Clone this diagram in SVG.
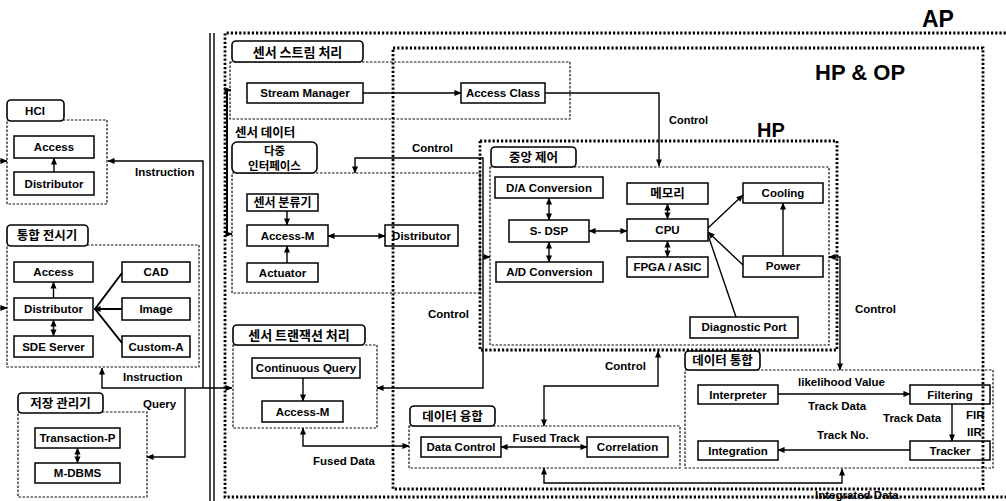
<svg xmlns="http://www.w3.org/2000/svg" width="1006" height="501" viewBox="0 0 1006 501">
<defs>
<style>
text{font-family:"Liberation Sans","Noto Sans CJK KR",sans-serif;font-weight:bold;font-size:11.5px;fill:#000}
.c{text-anchor:middle}
.kr{font-family:"Noto Sans CJK KR","Liberation Sans",sans-serif;font-size:12.5px;font-weight:bold}
.box{fill:#fff;stroke:#000;stroke-width:1.5}
.tab{fill:#fff;stroke:#000;stroke-width:1.6}
.cont{fill:none;stroke:#111;stroke-width:1.2;stroke-dasharray:2.5 1.5}
.dot{fill:none;stroke:#000;stroke-width:2.8;stroke-dasharray:2.2 2}
.ln{fill:none;stroke:#000;stroke-width:1.4}
.th{fill:none;stroke:#000;stroke-width:2}
.big{font-family:"Liberation Sans",sans-serif;font-weight:900;font-size:22px}
</style>
<marker id="a" viewBox="0 0 8 8" refX="7.5" refY="4" markerWidth="7" markerHeight="7" orient="auto-start-reverse" markerUnits="userSpaceOnUse"><path d="M0,0.5 L8,4 L0,7.5 z" fill="#000"/></marker>
</defs>
<rect width="1006" height="501" fill="#fff"/>

<!-- left column -->
<g id="hci">
<rect class="cont" x="7" y="120" width="100" height="84"/>
<rect class="tab" x="7" y="100" width="57" height="21" rx="4"/>
<text class="c" x="35" y="115">HCI</text>
</g>
<g id="hci-access"><rect class="box" x="14" y="136" width="80" height="22"/><text class="c" x="54" y="151">Access</text></g>
<g id="hci-distributor"><rect class="box" x="14" y="172" width="80" height="23"/><text class="c" x="54" y="188">Distributor</text></g>

<g id="display">
<rect class="cont" x="7" y="245" width="192" height="122"/>
<rect class="tab" x="7" y="225" width="81" height="21" rx="4"/>
<text class="c kr" x="47" y="240">통합 전시기</text>
</g>
<g id="disp-access"><rect class="box" x="14" y="262" width="79" height="20"/><text class="c" x="53.5" y="276">Access</text></g>
<g id="disp-cad"><rect class="box" x="122" y="262" width="68" height="20"/><text class="c" x="156" y="276">CAD</text></g>
<g id="disp-distributor"><rect class="box" x="14" y="298" width="79" height="22"/><text class="c" x="53.5" y="313">Distributor</text></g>
<g id="disp-image"><rect class="box" x="122" y="298" width="68" height="22"/><text class="c" x="156" y="313">Image</text></g>
<g id="disp-sde"><rect class="box" x="14" y="336" width="79" height="21"/><text class="c" x="53.5" y="350.5">SDE Server</text></g>
<g id="disp-custom"><rect class="box" x="122" y="336" width="68" height="21"/><text class="c" x="156" y="350.5">Custom-A</text></g>

<g id="storage">
<rect class="cont" x="18" y="412" width="129" height="85"/>
<rect class="tab" x="18" y="393" width="85" height="20" rx="4"/>
<text class="c kr" x="60.5" y="407.5">저장 관리기</text>
</g>
<g id="transaction-p"><rect class="box" x="35" y="428" width="85" height="20"/><text class="c" x="77.5" y="442">Transaction-P</text></g>
<g id="m-dbms"><rect class="box" x="35" y="463" width="85" height="20"/><text class="c" x="77.5" y="477">M-DBMS</text></g>

<!-- sensor stream -->
<g id="stream">
<rect class="cont" x="230" y="62" width="340" height="57"/>
<rect class="tab" x="232" y="41" width="131" height="21" rx="4"/>
<text class="c kr" x="297.5" y="56.5" style="font-size:13px">센서 스트림 처리</text>
</g>
<g id="stream-manager"><rect class="box" x="247" y="83" width="116" height="20"/><text class="c" x="305" y="97">Stream Manager</text></g>
<g id="access-class"><rect class="box" x="461" y="83" width="84" height="20"/><text class="c" x="503" y="97">Access Class</text></g>

<text class="kr" x="235" y="137">센서 데이터</text>

<g id="multi-if">
<rect class="cont" x="232" y="173" width="248" height="120"/>
<rect class="tab" x="232" y="142" width="85" height="31" rx="5"/>
<text class="c kr" x="274.5" y="155" style="font-size:11.5px">다중</text>
<text class="c kr" x="274.5" y="169.5" style="font-size:11.5px">인터페이스</text>
</g>
<g id="classifier"><rect class="box" x="247" y="194" width="71" height="17"/><text class="c kr" x="282.5" y="207" style="font-size:12px">센서 분류기</text></g>
<g id="if-access-m"><rect class="box" x="247" y="225" width="81" height="21"/><text class="c" x="287.5" y="240">Access-M</text></g>
<g id="actuator"><rect class="box" x="247" y="263" width="71" height="19"/><text class="c" x="282.5" y="277">Actuator</text></g>
<g id="if-distributor"><rect class="box" x="385" y="225" width="73" height="21"/><text class="c" x="421.5" y="240">Distributor</text></g>

<g id="transaction">
<rect class="cont" x="233" y="345" width="144" height="83"/>
<rect class="tab" x="233" y="325" width="132" height="20" rx="4"/>
<text class="c kr" x="299" y="340" style="font-size:13px">센서 트랜잭션 처리</text>
</g>
<g id="cont-query"><rect class="box" x="252" y="358" width="108" height="20"/><text class="c" x="306" y="372">Continuous Query</text></g>
<g id="tr-access-m"><rect class="box" x="262" y="401" width="81" height="21"/><text class="c" x="302.5" y="416">Access-M</text></g>

<g id="fusion">
<rect class="cont" x="409" y="426" width="271" height="42"/>
<rect class="tab" x="410" y="406" width="85" height="20" rx="4"/>
<text class="c kr" x="452.5" y="421">데이터 융합</text>
</g>
<g id="data-control"><rect class="box" x="421" y="437" width="80" height="20"/><text class="c" x="461" y="451">Data Control</text></g>
<g id="correlation"><rect class="box" x="587" y="437" width="81" height="20"/><text class="c" x="627.5" y="451">Correlation</text></g>

<g id="central">
<rect class="cont" x="490" y="167" width="339" height="178"/>
<rect class="tab" x="491" y="147" width="85" height="20" rx="4"/>
<text class="c kr" x="533.5" y="162">중앙 제어</text>
</g>
<g id="da"><rect class="box" x="495" y="177" width="108" height="21"/><text class="c" x="549" y="192">D/A Conversion</text></g>
<g id="sdsp"><rect class="box" x="509" y="220" width="80" height="22"/><text class="c" x="549" y="235">S- DSP</text></g>
<g id="ad"><rect class="box" x="496" y="262" width="107" height="20"/><text class="c" x="549.5" y="276">A/D Conversion</text></g>
<g id="memory"><rect class="box" x="627" y="183" width="81" height="21"/><text class="c kr" x="667.5" y="198">메모리</text></g>
<g id="cpu"><rect class="box" x="627" y="219" width="81" height="22"/><text class="c" x="667.5" y="234">CPU</text></g>
<g id="fpga"><rect class="box" x="627" y="257" width="81" height="20"/><text class="c" x="667.5" y="271">FPGA / ASIC</text></g>
<g id="cooling"><rect class="box" x="743" y="183" width="80" height="20"/><text class="c" x="783" y="197">Cooling</text></g>
<g id="power"><rect class="box" x="743" y="256" width="80" height="21"/><text class="c" x="783" y="270">Power</text></g>
<g id="diag"><rect class="box" x="690" y="317" width="108" height="21"/><text class="c" x="744" y="331">Diagnostic Port</text></g>

<g id="integration">
<rect class="cont" x="685" y="370" width="308" height="98"/>
<rect class="tab" x="685" y="351" width="75" height="19" rx="4"/>
<text class="c kr" x="722.5" y="365">데이터 통합</text>
</g>
<g id="interpreter"><rect class="box" x="698" y="385" width="80" height="19"/><text class="c" x="738" y="398.5">Interpreter</text></g>
<g id="filtering"><rect class="box" x="910" y="385" width="80" height="19"/><text class="c" x="950" y="398.5">Filtering</text></g>
<g id="tracker"><rect class="box" x="910" y="441" width="80" height="19"/><text class="c" x="950" y="454.5">Tracker</text></g>
<g id="integ"><rect class="box" x="698" y="441" width="80" height="19"/><text class="c" x="738" y="454.5">Integration</text></g>

<!-- connectors -->
<g id="connectors">
<path class="ln" d="M0 161 H7" marker-end="url(#a)"/>
<path class="ln" d="M0 308 H7" marker-end="url(#a)"/>
<path class="ln" d="M54 172 V158" marker-end="url(#a)"/>
<path class="ln" d="M53.5 298 V282" marker-end="url(#a)"/>
<path class="ln" d="M53.5 320 V336" marker-start="url(#a)" marker-end="url(#a)"/>
<path class="th" d="M95 309 L122 273 M95 309 H122 M95 309 L122 343"/>
<path class="ln" d="M104 309 H94" marker-end="url(#a)"/>
<path class="ln" d="M77.5 448 V463" marker-start="url(#a)" marker-end="url(#a)"/>
<path class="ln" d="M203 388 V161 H108" marker-end="url(#a)"/>
<path class="ln" d="M232 388 H102 V368" marker-start="url(#a)" marker-end="url(#a)"/>
<path class="ln" d="M185 388 V457 H147" marker-end="url(#a)"/>
<path class="ln" d="M210 33 V501 M214 33 V501" stroke-width="1.2"/>

<path class="ln" d="M363 93 H461" marker-end="url(#a)"/>
<path class="ln" d="M545 93 H659 V166" marker-end="url(#a)"/>
<path class="th" d="M231 90 H227 V234 H232" marker-start="url(#a)" marker-end="url(#a)"/>
<path class="ln" d="M287 211 V225" marker-end="url(#a)"/>
<path class="ln" d="M287 263 V246" marker-end="url(#a)"/>
<path class="ln" d="M328 236 H385" marker-start="url(#a)" marker-end="url(#a)"/>
<path class="ln" d="M355 173 V158 H483 V388 H377" marker-start="url(#a)" marker-end="url(#a)"/>
<path class="ln" d="M483 257 H490" marker-end="url(#a)"/>
<path class="ln" d="M303 378 V401" marker-end="url(#a)"/>
<path class="ln" d="M303 428 V446 H409" marker-start="url(#a)" marker-end="url(#a)"/>
<path class="ln" d="M501 447 H587" marker-start="url(#a)" marker-end="url(#a)"/>
<path class="ln" d="M658 351 V386 H544 V426" marker-start="url(#a)" marker-end="url(#a)"/>
<path class="ln" d="M544 468 V483 H842 V469" marker-start="url(#a)" marker-end="url(#a)"/>

<path class="ln" d="M549 198 V220" marker-start="url(#a)" marker-end="url(#a)"/>
<path class="ln" d="M549 242 V262" marker-start="url(#a)" marker-end="url(#a)"/>
<path class="ln" d="M589 231 H627" marker-start="url(#a)" marker-end="url(#a)"/>
<path class="ln" d="M667.5 204 V219" marker-start="url(#a)" marker-end="url(#a)"/>
<path class="ln" d="M667.5 241 V257" marker-start="url(#a)" marker-end="url(#a)"/>
<path class="ln" d="M708 228 L743 195" marker-end="url(#a)"/>
<path class="ln" d="M743 265 L708 232" marker-end="url(#a)"/>
<path class="ln" d="M736 317 L708 235"/>
<path class="ln" d="M783 256 V203" marker-end="url(#a)"/>
<path class="ln" d="M829 257 H840 V370" marker-start="url(#a)" marker-end="url(#a)"/>

<path class="ln" d="M778 394 H910" marker-end="url(#a)"/>
<path class="ln" d="M952 404 V441" marker-end="url(#a)"/>
<path class="ln" d="M910 450 H778" marker-end="url(#a)"/>
</g>

<!-- frames -->
<g id="frames">
<path class="dot" d="M1010 33 H225 V497 H1010"/>
<rect class="dot" x="393" y="48" width="590" height="441"/>
<rect class="dot" x="480" y="141" width="357" height="209"/>
</g>

<!-- labels -->
<g id="labels">
<text class="big" x="922" y="27" style="font-size:23px">AP</text>
<text class="big" x="815" y="80">HP &amp; OP</text>
<text class="big" x="757" y="137" style="font-size:20px">HP</text>
<text x="135" y="176">Instruction</text>
<text x="123" y="381">Instruction</text>
<text x="143" y="408">Query</text>
<text x="669" y="124" style="font-size:11px">Control</text>
<text x="412" y="152">Control</text>
<text x="428" y="318">Control</text>
<text x="605" y="370">Control</text>
<text x="855" y="313">Control</text>
<text x="313" y="465">Fused Data</text>
<text class="c" x="546" y="442">Fused Track</text>
<text x="798" y="386">likelihood Value</text>
<text x="808" y="410">Track Data</text>
<text x="883" y="422">Track Data</text>
<text x="966" y="419">FIR</text>
<text x="967" y="436">IIR</text>
<text x="817" y="439">Track No.</text>
<text x="815" y="499">Integrated Data</text>
</g>
</svg>
